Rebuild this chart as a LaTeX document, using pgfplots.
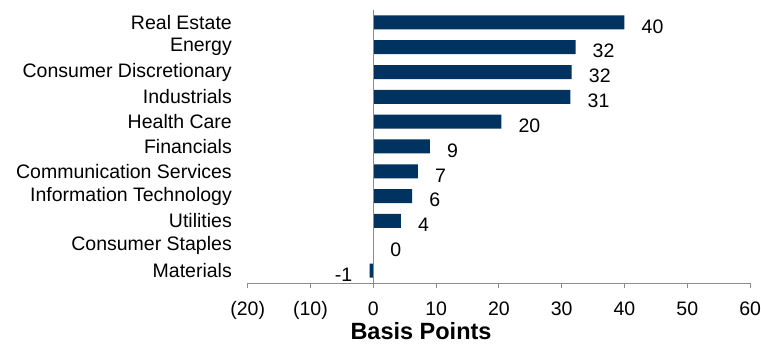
\documentclass[border=0pt]{standalone}
\usepackage{pgfplots}
\pgfplotsset{compat=1.18}
\usepackage{pgfplotstable}
\usepackage{fontspec}
\setmainfont{Liberation Sans}

\definecolor{barblue}{RGB}{0,51,95}
\definecolor{axisgray}{RGB}{140,140,140}

% contribution by sector, basis points (idx 10 = top row)
\pgfplotstableread{
idx value
10 40.0
9 32.2
8 31.6
7 31.4
6 20.4
5 9.0
4 7.1
3 6.2
2 4.4
1 0.0
0 -0.6
}\sectors

\begin{document}
\begin{tikzpicture}
\useasboundingbox (0,0) rectangle (761bp,344bp);
\begin{axis}[
  at={(247.7bp,61bp)}, anchor=south west,
  scale only axis, width=502.4bp, height=273bp,
  xbar, bar width=14bp,
  xmin=-20, xmax=60, ymin=-0.5, ymax=10.5,
  axis x line*=bottom, axis y line*=left,
  x axis line style={axisgray, line width=0.8pt, -},
  y axis line style={draw=none},
  xtick={-20,-10,...,60},
  xticklabels={(20),(10),0,10,20,30,40,50,60},
  tick align=outside, major tick length=5bp,
  xtick style={axisgray, line width=0.8pt},
  ytick={0,...,10},
  yticklabels={Materials,Consumer Staples,Utilities,Information Technology,Communication Services,Financials,Health Care,Industrials,Consumer Discretionary,Energy,Real Estate},
  ytick style={draw=none},
  tick label style={font=\fontsize{19.5bp}{22bp}\selectfont},
  yticklabel style={inner xsep=0pt, xshift=-10.7bp},
  xticklabel style={yshift=-10bp},
  /pgf/number format/assume math mode=true,
  xlabel={Basis Points},
  xlabel style={font=\bfseries\fontsize{23.5bp}{27bp}\selectfont,
    at={(axis description cs:0.345,0)}, anchor=north, yshift=-36bp},
  point meta=x,
  nodes near coords={\pgfmathprintnumber[fixed,precision=0]{\pgfplotspointmeta}},
  nodes near coords align={horizontal},
  every node near coord/.append style={font=\fontsize{19.5bp}{22bp}\selectfont, text=black, inner xsep=17bp, yshift=-4bp},
  clip=false,
]
\addplot[fill=barblue, draw=none] table[x=value, y=idx] {\sectors};
\draw[axisgray, line width=0.8pt] (axis cs:0,-0.5) -- (axis cs:0,10.5);
\end{axis}
\end{tikzpicture}
\end{document}
